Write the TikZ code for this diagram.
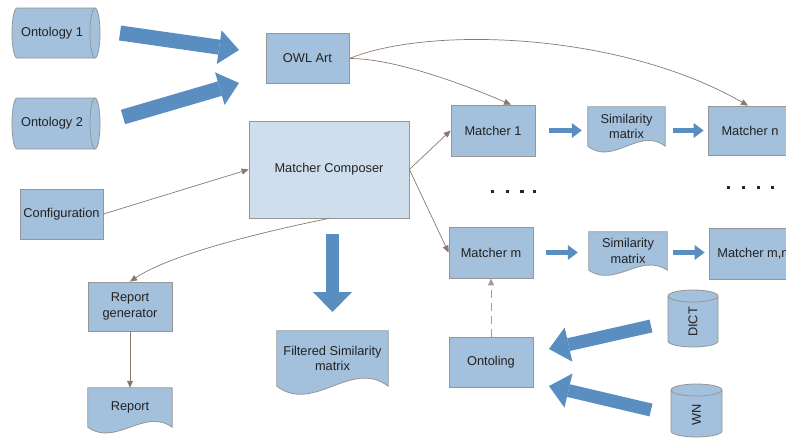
\documentclass[tikz,border=0pt]{standalone}
\usepackage{fontspec}
\setmainfont{Liberation Sans}
\usetikzlibrary{arrows.meta,calc}
\definecolor{boxfill}{RGB}{163,193,220}
\definecolor{lightfill}{RGB}{207,222,237}
\definecolor{edgecol}{RGB}{150,150,150}
\definecolor{bigblue}{RGB}{90,142,192}
\definecolor{conncol}{RGB}{140,120,112}
\definecolor{txtcol}{RGB}{34,34,34}
\pgfdeclarelayer{bg}
\pgfdeclarelayer{docs}
\pgfsetlayers{bg,docs,main}
\tikzset{
  every node/.style={font=\fontsize{12.8}{15.5}\selectfont, text=txtcol},
  box/.style={draw=edgecol, line width=0.8pt, fill=boxfill, inner sep=0pt, align=center},
  lightbox/.style={box, fill=lightfill},
  docbox/.style={inner sep=0pt, align=center},
  shapeline/.style={draw=edgecol, line width=0.8pt, fill=boxfill},
  conn/.style={draw=conncol, line width=0.7pt, -{Triangle[length=7pt,width=6pt]}},
  dashconn/.style={draw=conncol!75, line width=0.9pt, dash pattern=on 8pt off 5pt, -{Triangle[length=7pt,width=6pt]}},
  bigarr/.style 2 args={draw=bigblue, line width=#1, -{Triangle[length=20pt,width=#2,line width=0pt]}},
  smallarr/.style={draw=bigblue, line width=5pt, -{Triangle[length=10pt,width=15pt,line width=0pt]}},
  dotsq/.style={fill=black!85}
}
\newcommand\docoutline[2]{%
  \path[shapeline] (#1.north west) -- (#1.north east) -- (#1.south east)
    .. controls ($(#1.south east)!0.3333!(#1.south west)+(0,-#2)$) and ($(#1.south east)!0.6667!(#1.south west)+(0,#2)$) .. (#1.south west) -- cycle;}
\begin{document}
\begin{tikzpicture}[x=1pt,y=-1pt]
\path[use as bounding box] (0,0) rectangle (786,439);
\clip (0,0) rectangle (786,439);
\begin{pgfonlayer}{bg}
  \fill[white] (0,0) rectangle (786,439);
\end{pgfonlayer}

% ---- cylinders (ontologies) ----
\path[shapeline] (17,8) -- (95,8) arc[start angle=-90,end angle=90,x radius=5,y radius=25] -- (17,58) arc[start angle=90,end angle=270,x radius=5,y radius=25] -- cycle;
\draw[edgecol, line width=0.8pt] (95,8) arc[start angle=270,end angle=90,x radius=5,y radius=25];
\node (ont1) at (52,33) {Ontology 1};

\path[shapeline] (17,98) -- (95,98) arc[start angle=-90,end angle=90,x radius=5,y radius=25.5] -- (17,149) arc[start angle=90,end angle=270,x radius=5,y radius=25.5] -- cycle;
\draw[edgecol, line width=0.8pt] (95,98) arc[start angle=270,end angle=90,x radius=5,y radius=25.5];
\node (ont2) at (52,123.5) {Ontology 2};

% ---- vertical cylinders ----
\path[shapeline] (668,296) -- (668,341) arc[start angle=180,end angle=0,x radius=25,y radius=6] -- (718,296) arc[start angle=0,end angle=-180,x radius=25,y radius=6] -- cycle;
\draw[edgecol, line width=0.8pt] (668,296) arc[start angle=180,end angle=0,x radius=25,y radius=6];
\node[rotate=90] (dict) at (693,322) {DICT};

\path[shapeline] (671,390) -- (671,431) arc[start angle=180,end angle=0,x radius=25.5,y radius=6] -- (722,390) arc[start angle=0,end angle=-180,x radius=25.5,y radius=6] -- cycle;
\draw[edgecol, line width=0.8pt] (671,390) arc[start angle=180,end angle=0,x radius=25.5,y radius=6];
\node[rotate=90] (wn) at (696.5,415) {WN};

% ---- boxes ----
\node[box, minimum width=83pt, minimum height=50pt] (owl) at (307.5,58.5) {OWL Art};
\node[lightbox, minimum width=160pt, minimum height=97pt] (comp) at (329,169.5) {Matcher Composer};
\node[box, minimum width=83pt, minimum height=50pt] (conf) at (61.5,214) {Configuration};
\node[box, minimum width=84pt, minimum height=49pt] (rgen) at (130,306.5) {Report\\generator};
\node[box, minimum width=84pt, minimum height=51pt] (m1) at (493,130.5) {Matcher 1};
\node[box, minimum width=84pt, minimum height=51pt] (mm) at (491,252.5) {Matcher m};
\node[box, minimum width=84pt, minimum height=49pt] (mn) at (750,130.5) {Matcher n};
\node[box, minimum width=88pt, minimum height=51pt] (mmn) at (753,253.5) {Matcher m,n};
\node[box, minimum width=84pt, minimum height=50pt] (onto) at (491,362) {Ontoling};

% ---- documents ----
\node[docbox, minimum width=77pt, minimum height=39pt] (sim1) at (626.5,126.5) {Similarity\\matrix};
\node[docbox, minimum width=78pt, minimum height=38pt] (sim2) at (628,251) {Similarity\\matrix};
\node[docbox, minimum width=111pt, minimum height=55pt] (filt) at (332.5,358.5) {Filtered Similarity\\matrix};
\node[docbox, minimum width=84pt, minimum height=39pt] (rep) at (130,407.5) {Report};
\begin{pgfonlayer}{docs}
  \docoutline{sim1}{20}
  \docoutline{sim2}{18}
  \docoutline{filt}{28}
  \docoutline{rep}{20}
\end{pgfonlayer}

% ---- dots ----
\foreach \x in {490.5,505.5,520,532.5} \fill[dotsq] (\x,189.5) rectangle +(3.5,3.5);
\foreach \x in {726.5,741.5,756.5,770.5} \fill[dotsq] (\x,185.5) rectangle +(3.5,3.5);

% ---- big arrows ----
\coordinate (a1s) at (120,33);  \coordinate (a1e) at (239,50);
\coordinate (a2s) at (123,117); \coordinate (a2e) at (239,83);
\coordinate (a3s) at (332.5,234); \coordinate (a3e) at (332.5,312);
\coordinate (a4s) at (651,326); \coordinate (a4e) at (549,349);
\coordinate (a5s) at (651,410); \coordinate (a5e) at (549,386);
\draw[bigarr={15pt}{34pt}] (a1s) -- (a1e);
\draw[bigarr={15pt}{34pt}] (a2s) -- (a2e);
\draw[bigarr={13pt}{39pt}] (a3s) -- (a3e);
\draw[bigarr={13pt}{35pt}] (a4s) -- (a4e);
\draw[bigarr={13pt}{35pt}] (a5s) -- (a5e);

% ---- small arrows (horizontal) ----
\draw[smallarr] ([xshift=14pt]m1.east) -- ([xshift=-6pt]sim1.west |- m1.east);
\draw[smallarr] ([xshift=8pt]sim1.east |- mn.west) -- ([xshift=-4pt]mn.west);
\draw[smallarr] ([xshift=13pt]mm.east) -- ([xshift=-11pt]sim2.west |- mm.east);
\draw[smallarr] ([xshift=6pt]sim2.east |- mm.east) -- ([xshift=-4pt]mmn.west |- mm.east);

% ---- thin connectors ----
\draw[conn] (owl.east) .. controls +(50,0) and +(-35,-15) .. ([xshift=18pt]m1.north);
\draw[conn] (owl.east) .. controls +(81,-33) and +(-127,-73) .. ([xshift=-2pt]mn.north);
\draw[conn] (conf.east) -- (comp.west);
\draw[conn] (comp.east) -- (m1.west);
\draw[conn] (comp.east) -- (mm.west);
\draw[conn] (comp.south) .. controls +(-69,14) and +(40,-27) .. (rgen.north);
\draw[conn] (rgen.south) -- (rep.north);
\draw[dashconn] (onto.north) -- (mm.south);
\end{tikzpicture}
\end{document}
